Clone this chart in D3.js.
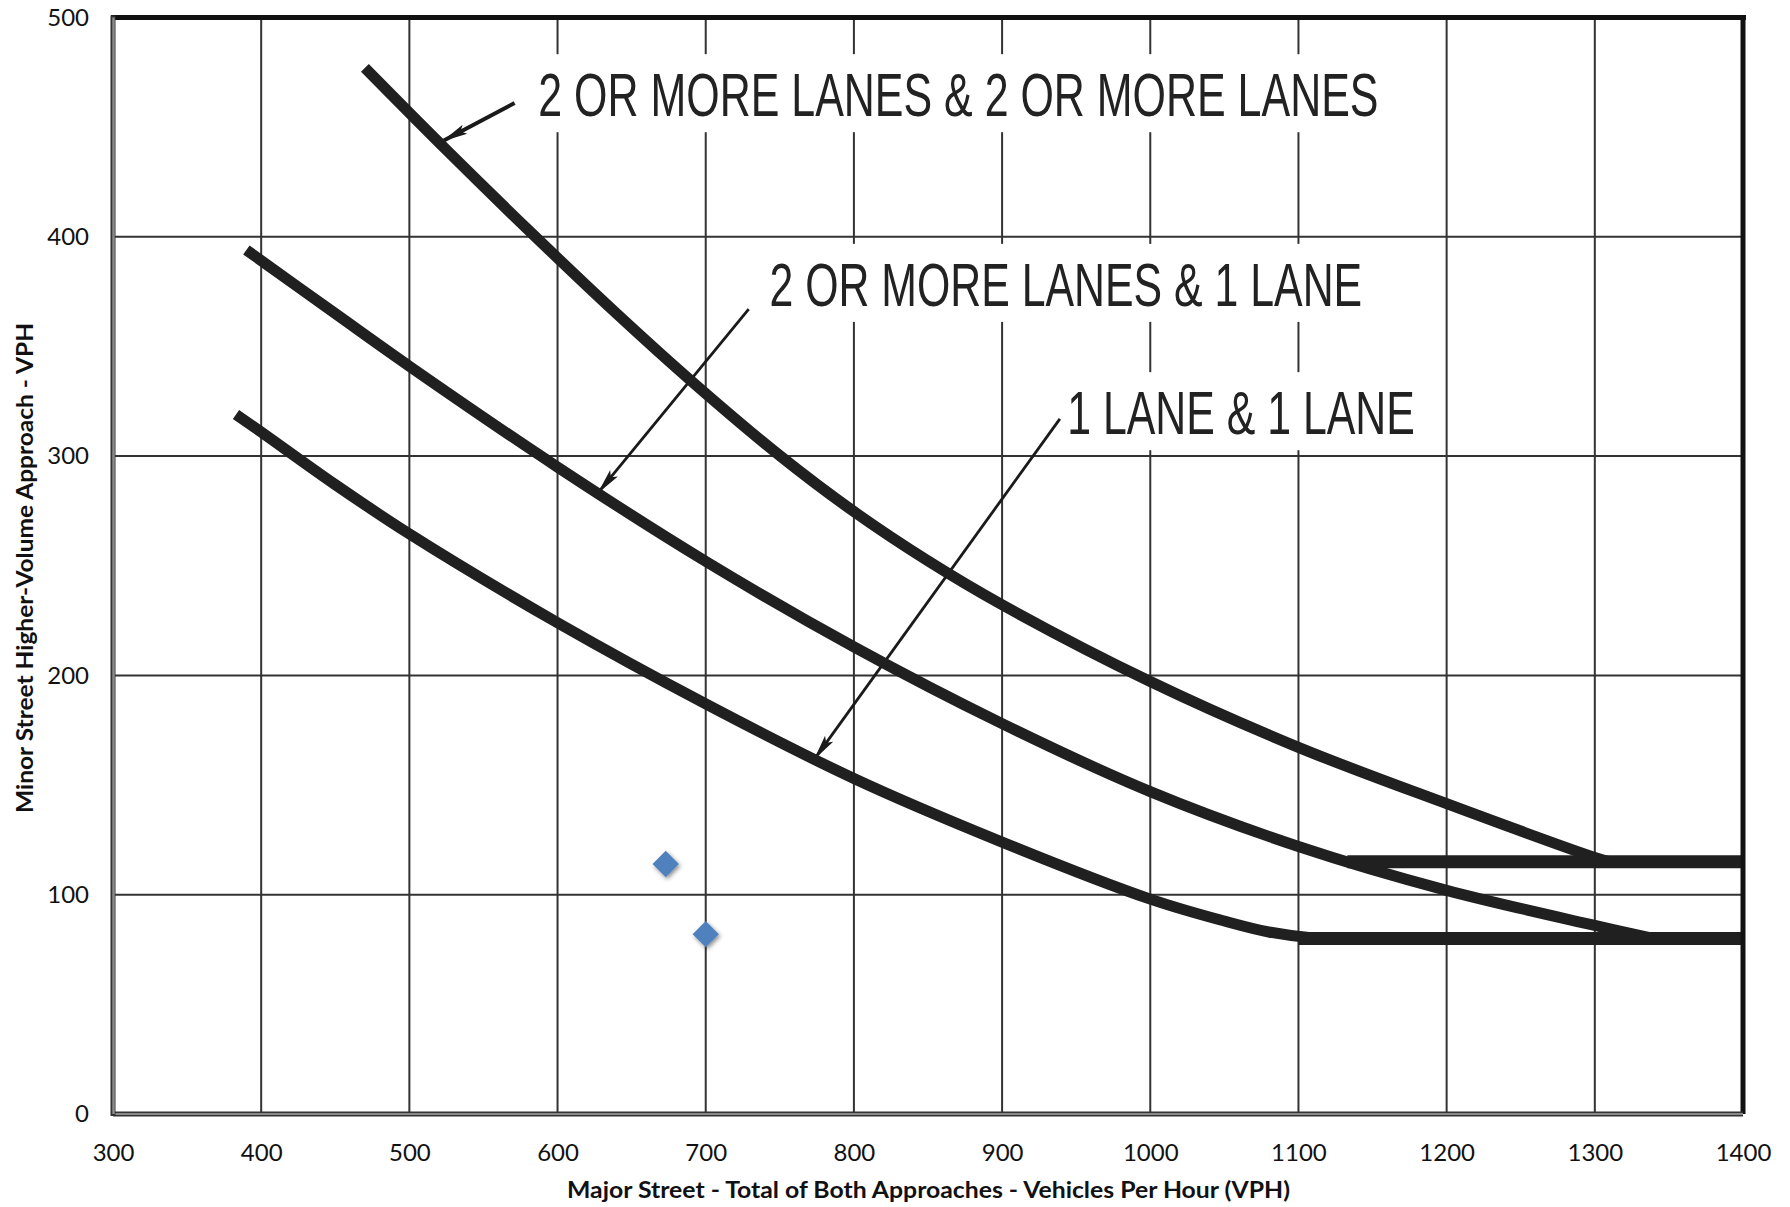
<!DOCTYPE html>
<html><head><meta charset="utf-8">
<script src="https://cdn.jsdelivr.net/npm/d3@7"></script>
<style>body{margin:0;background:#fff} svg{display:block}</style>
</head><body>
<svg id="chart" width="1790" height="1207"></svg>
<script>
// ---- data ----
const xTicks = [300,400,500,600,700,800,900,1000,1100,1200,1300,1400];
const yTicks = [0,100,200,300,400,500];
const xTitle = "Major Street - Total of Both Approaches - Vehicles Per Hour (VPH)";
const yTitle = "Minor Street Higher-Volume Approach - VPH";

const curveTwoTwo = [[470,477],[525,439.6],[584,400.7],[640,364.9],[689,335],[750,300.2],[800,274.7],[850,252.2],[900,232.2],[1000,197.2],[1100,167.2],[1200,141.5],[1300,117],[1310,115]];
const curveTwoOne = [[390,394],[450,365],[500,341],[600,295],[700,252],[800,213],[900,178],[1000,147],[1100,122],[1200,102],[1300,86],[1340,80]];
const curveOneOne = [[383,319],[400,311],[450,287],[500,264.5],[600,224],[700,187],[800,153],[900,124],[1000,98],[1050,88],[1080,83],[1110,80.3],[1130,80]];
const floorValues = [115, 80];
const floorStarts = [1133, 1100];
const floorEnd = 1400;

const labelTexts = ["2 OR MORE LANES & 2 OR MORE LANES", "2 OR MORE LANES & 1 LANE", "1 LANE & 1 LANE"];
const labelStartX = [587, 743, 944];
const labelEndX = [1154, 1143, 1178.5];
const labelBaseY = [455, 368.5, 310];

const arrowFrom = [[571,461],[729,367],[939,317]];
const arrowTo = [[522,443.5],[627,283],[773,161.5]];

const points = [[673,114],[700,82]];

// ---- drawing ----
const svg = d3.select("#chart");
const x = d3.scaleLinear().domain([300,1400]).range([113,1743]);
const y = d3.scaleLinear().domain([0,500]).range([1114,17.5]);

const defs = svg.append("defs");
defs.append("marker").attr("id","ah").attr("viewBox","0 0 26 12")
  .attr("refX",26).attr("refY",6).attr("markerWidth",26).attr("markerHeight",12)
  .attr("markerUnits","userSpaceOnUse").attr("orient","auto")
  .append("path").attr("d","M0,1 L26,6 L0,11 L5,6 Z").attr("fill","#1a1a1a");
const f = defs.append("filter").attr("id","sh").attr("x","-50%").attr("y","-50%").attr("width","200%").attr("height","200%");
f.append("feDropShadow").attr("dx",1.5).attr("dy",2).attr("stdDeviation",2).attr("flood-color","#000").attr("flood-opacity",0.45);

// gridlines
svg.append("g").selectAll("line").data(xTicks.slice(1,-1)).join("line")
  .attr("x1",d=>x(d)).attr("x2",d=>x(d)).attr("y1",y(500)).attr("y2",y(0))
  .attr("stroke","#333").attr("stroke-width",2);
svg.append("g").selectAll("line").data(yTicks.slice(1,-1)).join("line")
  .attr("x1",x(300)).attr("x2",x(1400)).attr("y1",d=>y(d)).attr("y2",d=>y(d))
  .attr("stroke","#333").attr("stroke-width",2);

// label backgrounds + labels
const lab = svg.append("g");
labelTexts.forEach((t,i)=>{
  const x0 = x(labelStartX[i]), x1 = x(labelEndX[i]), yb = y(labelBaseY[i]);
  lab.append("rect").attr("x",x0-8).attr("y",yb-62).attr("width",x1-x0+16).attr("height",78).attr("fill","#fff");
  lab.append("text").attr("x",x0).attr("y",yb).text(t)
    .attr("font-family","'Liberation Sans', Arial, sans-serif").attr("font-size",62)
    .attr("fill","#222").attr("textLength",x1-x0).attr("lengthAdjust","spacingAndGlyphs");
});

// arrows
const arrowW = [4, 2.8, 2.8];
svg.append("g").selectAll("line").data(arrowFrom.map((a,i)=>[a,arrowTo[i],arrowW[i]])).join("line")
  .attr("x1",d=>x(d[0][0])).attr("y1",d=>y(d[0][1])).attr("x2",d=>x(d[1][0])).attr("y2",d=>y(d[1][1]))
  .attr("stroke","#1a1a1a").attr("stroke-width",d=>d[2]).attr("marker-end","url(#ah)");

// curves
const line = d3.line().x(d=>x(d[0])).y(d=>y(d[1])).curve(d3.curveCatmullRom.alpha(0.5));
[curveTwoTwo, curveTwoOne, curveOneOne].forEach(c=>{
  svg.append("path").attr("d",line(c)).attr("fill","none").attr("stroke","#202020")
    .attr("stroke-width",11).attr("stroke-linejoin","round");
});
floorValues.forEach((v,i)=>{
  svg.append("line").attr("x1",x(floorStarts[i])).attr("x2",x(floorEnd)).attr("y1",y(v)).attr("y2",y(v))
    .attr("stroke","#202020").attr("stroke-width",13);
});

// border
svg.append("line").attr("x1",x(300)-2).attr("x2",x(1400)+3).attr("y1",y(500)).attr("y2",y(500)).attr("stroke","#111").attr("stroke-width",5);
svg.append("line").attr("x1",x(1400)).attr("x2",x(1400)).attr("y1",y(500)-2).attr("y2",y(0)).attr("stroke","#111").attr("stroke-width",5);
// left & bottom axes (gray with dark edge)
svg.append("line").attr("x1",x(300)).attr("x2",x(1400)).attr("y1",y(0)).attr("y2",y(0)).attr("stroke","#333").attr("stroke-width",5);
svg.append("line").attr("x1",x(300)).attr("x2",x(1400)).attr("y1",y(0)).attr("y2",y(0)).attr("stroke","#8a8a8a").attr("stroke-width",2);
svg.append("line").attr("x1",x(300)).attr("x2",x(300)).attr("y1",y(500)-2).attr("y2",y(0)+2).attr("stroke","#333").attr("stroke-width",5);
svg.append("line").attr("x1",x(300)+0.5).attr("x2",x(300)+0.5).attr("y1",y(500)).attr("y2",y(0)).attr("stroke","#8a8a8a").attr("stroke-width",2.5);

// axes tick labels
const xa = svg.append("g").attr("transform",`translate(0,${y(0)})`)
  .call(d3.axisBottom(x).tickValues(xTicks).tickSize(0).tickPadding(30).tickFormat(d3.format("d")));
xa.select(".domain").remove();
xa.selectAll("text").attr("font-family","Lato, 'Open Sans', sans-serif").attr("font-size",24).attr("fill","#111");
const ya = svg.append("g").attr("transform",`translate(${x(300)},0)`)
  .call(d3.axisLeft(y).tickValues(yTicks).tickSize(0).tickPadding(24).tickFormat(d3.format("d")));
ya.select(".domain").remove();
ya.selectAll("text").attr("font-family","Lato, 'Open Sans', sans-serif").attr("font-size",24).attr("fill","#111");

// axis titles
svg.append("text").attr("x",(567+1290)/2).attr("y",1198).attr("text-anchor","middle")
  .attr("font-family","Lato, 'Open Sans', sans-serif").attr("font-weight","bold").attr("font-size",23)
  .attr("textLength",723).attr("lengthAdjust","spacingAndGlyphs").attr("fill","#111").text(xTitle);
svg.append("text").attr("transform","translate(33,568) rotate(-90)").attr("text-anchor","middle")
  .attr("font-family","Lato, 'Open Sans', sans-serif").attr("font-weight","bold").attr("font-size",23)
  .attr("textLength",490).attr("lengthAdjust","spacingAndGlyphs").attr("fill","#111").text(yTitle);

// data points
svg.append("g").selectAll("path").data(points).join("path")
  .attr("transform",d=>`translate(${x(d[0])},${y(d[1])})`)
  .attr("d",d3.symbol().type(d3.symbolDiamond2).size(440))
  .attr("fill","#4F81BD").attr("filter","url(#sh)");
</script>
</body></html>
